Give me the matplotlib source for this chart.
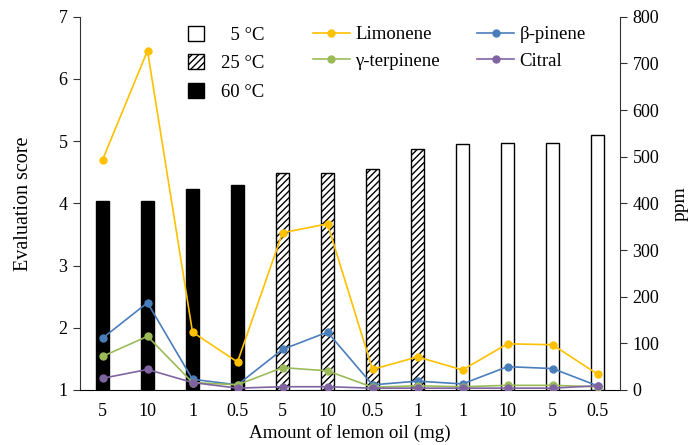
import matplotlib
matplotlib.use("Agg")
import matplotlib.pyplot as plt
from matplotlib.patches import Patch
from matplotlib.lines import Line2D
import numpy as np

plt.rcParams['font.family'] = ['Liberation Serif', 'DejaVu Serif']
plt.rcParams['hatch.linewidth'] = 1.0

categories = ['5', '10', '1', '0.5', '5', '10', '0.5', '1', '1', '10', '5', '0.5']
temps = ['60', '60', '60', '60', '25', '25', '25', '25', '5', '5', '5', '5']
scores = [4.03, 4.03, 4.23, 4.30, 4.48, 4.48, 4.55, 4.87, 4.95, 4.97, 4.97, 5.10]

limonene = [493, 727, 124, 60, 337, 356, 44, 71, 43, 99, 97, 34]
b_pinene = [111, 187, 23, 11, 87, 124, 11, 19, 13, 50, 46, 9]
g_terpinene = [72, 115, 16, 11, 48, 41, 6, 9, 7, 10, 10, 7]
citral = [25, 44, 16, 4, 7, 7, 4, 4, 4, 4, 4, 9]

series_names = ['Limonene', 'β-pinene', 'γ-terpinene', 'Citral']
series_colors = ['#FFC000', '#4A7EBB', '#9BBB59', '#8064A2']

temp_style = {
    '5':  dict(facecolor='white', hatch=None),
    '25': dict(facecolor='white', hatch='/////'),
    '60': dict(facecolor='black', hatch=None),
}

fig = plt.figure(figsize=(7, 4.45), dpi=100)
ax = fig.add_axes([80/700, 55/445, 540/700, (390-16.7)/445])
x = np.arange(len(categories))

for i, (s, t) in enumerate(zip(scores, temps)):
    st = temp_style[t]
    ax.bar(x[i], s - 1, bottom=1, width=0.31, facecolor=st['facecolor'],
           edgecolor='black', linewidth=1.0, hatch=st['hatch'], zorder=2)

ax.set_xlim(-0.5, len(categories) - 0.5)
ax.set_ylim(1, 7)
ax.set_yticks(range(1, 8))
ax.set_xticks(x)
ax.set_xticklabels(categories)
spine_c = '#333333'
for sp in ['top', 'right']:
    ax.spines[sp].set_visible(False)
ax.spines['left'].set_color(spine_c)
ax.spines['bottom'].set_color('black')
ax.tick_params(axis='y', direction='out', length=5, color=spine_c, labelsize=13, pad=4)
ax.tick_params(axis='x', length=0, labelsize=13, pad=9)
ax.set_ylabel('Evaluation score', fontsize=14.5, labelpad=18)
ax.set_xlabel('Amount of lemon oil (mg)', fontsize=13.7, labelpad=3)

ax2 = ax.twinx()
for vals, name, c in zip([limonene, b_pinene, g_terpinene, citral], series_names, series_colors):
    ax2.plot(x, vals, color=c, linewidth=1.2, marker='o', markersize=5, label=name, zorder=3)
ax2.set_ylim(0, 800)
ax2.set_yticks(range(0, 801, 100))
for sp in ['top', 'left', 'bottom']:
    ax2.spines[sp].set_visible(False)
ax2.spines['right'].set_color(spine_c)
ax2.tick_params(axis='y', direction='out', length=5, color=spine_c, labelsize=13, pad=4)
ax2.set_ylabel('ppm', fontsize=14, labelpad=9)

bar_handles = [Patch(facecolor='white', edgecolor='black', label='  5 °C'),
               Patch(facecolor='white', edgecolor='black', hatch='/////', label='25 °C'),
               Patch(facecolor='black', edgecolor='black', label='60 °C')]
fig.legend(handles=bar_handles, loc='upper left', bbox_to_anchor=(188/700, 1 - 26/445),
           frameon=False, fontsize=13.5, handlelength=0.85, handleheight=0.85,
           handletextpad=0.9, labelspacing=0.55, borderpad=0, borderaxespad=0)

line_h = {n: Line2D([], [], color=c, linewidth=1.2, marker='o', markersize=5, label=n)
          for n, c in zip(series_names, series_colors)}
order = ['Limonene', 'γ-terpinene', 'β-pinene', 'Citral']
fig.legend(handles=[line_h[n] for n in order], loc='upper left', ncol=2,
           bbox_to_anchor=(313/700, 1 - 26/445), frameon=False, fontsize=13.5,
           handlelength=1.95, handletextpad=0.3, columnspacing=2.0, labelspacing=0.5,
           borderpad=0, borderaxespad=0)

fig.savefig('out.png', dpi=100)
